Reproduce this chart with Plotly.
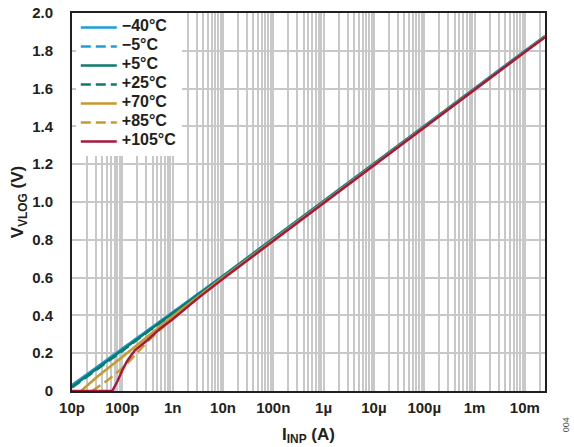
import plotly.graph_objects as go

# log10 of input current (A) and VLOG voltage (V) per temperature
names = ["\u221240\u00b0C", "\u22125\u00b0C", "+5\u00b0C", "+25\u00b0C", "+70\u00b0C", "+85\u00b0C", "+105\u00b0C"]
colors = ["#1aa0d8", "#1aa0d8", "#0b7b6e", "#0b7b6e", "#c89a2e", "#c89a2e", "#a6193f"]
dashes = ["solid", "10px,5px", "solid", "10px,5px", "solid", "10px,5px", "solid"]

log_m40 = [-11.0, -10.5, -10.0, -9.5, -9.0, -8.0, -6.0, -4.0, -2.0, -1.6]
v_m40 = [0.032, 0.127, 0.226, 0.321, 0.416, 0.610, 1.005, 1.402, 1.800, 1.878]
log_m5 = [-11.0, -10.5, -10.0, -9.5, -9.0, -8.0, -6.0, -4.0, -2.0, -1.6]
v_m5 = [0.030, 0.124, 0.223, 0.319, 0.414, 0.608, 1.004, 1.401, 1.799, 1.877]
log_p5 = [-11.0, -10.5, -10.0, -9.5, -9.0, -8.0, -6.0, -4.0, -2.0, -1.6]
v_p5 = [0.022, 0.119, 0.216, 0.315, 0.411, 0.606, 1.002, 1.400, 1.798, 1.876]
log_p25 = [-11.0, -10.5, -10.0, -9.5, -9.0, -8.0, -6.0, -4.0, -2.0, -1.6]
v_p25 = [0.018, 0.114, 0.212, 0.312, 0.409, 0.604, 1.001, 1.399, 1.797, 1.875]
log_p70 = [-10.82, -10.5, -10.0, -9.5, -9.0, -8.0, -6.0, -4.0, -2.0, -1.6]
v_p70 = [0.0, 0.075, 0.180, 0.290, 0.396, 0.600, 0.999, 1.397, 1.796, 1.874]
log_p85 = [-10.6, -10.3, -10.0, -9.85, -9.5, -9.0, -8.0, -6.0, -4.0, -2.0, -1.6]
v_p85 = [0.0, 0.055, 0.120, 0.160, 0.262, 0.385, 0.597, 0.998, 1.396, 1.795, 1.873]
log_p105 = [-11.0, -10.2, -10.1, -10.0, -9.9, -9.75, -9.5, -9.25, -9.0, -8.5, -8.0, -6.0, -4.0, -2.0, -1.6]
v_p105 = [0.0, 0.0, 0.05, 0.11, 0.16, 0.215, 0.27, 0.33, 0.38, 0.49, 0.594, 0.995, 1.395, 1.794, 1.872]

series = [(log_m40, v_m40), (log_m5, v_m5), (log_p5, v_p5), (log_p25, v_p25),
          (log_p70, v_p70), (log_p85, v_p85), (log_p105, v_p105)]

decade_vals = [1e-11, 1e-10, 1e-9, 1e-8, 1e-7, 1e-6, 1e-5, 1e-4, 1e-3, 1e-2]
decade_labels = ["10p", "100p", "1n", "10n", "100n", "1\u00b5", "10\u00b5", "100\u00b5", "1m", "10m"]
y_ticks = [0, 0.2, 0.4, 0.6, 0.8, 1.0, 1.2, 1.4, 1.6, 1.8, 2.0]
y_labels = ["0", "0.2", "0.4", "0.6", "0.8", "1.0", "1.2", "1.4", "1.6", "1.8", "2.0"]

FONT = "Liberation Sans, Arial, sans-serif"
INK = "#231f20"
GRID = "#c8c8c8"

fig = go.Figure()
for (lx, v), nm, c, d in zip(series, names, colors, dashes):
    fig.add_trace(go.Scatter(x=[10 ** e for e in lx], y=v, mode="lines",
                             name='<span style="font-size:16px">' + nm + '</span>',
                             line=dict(color=c, width=2.5, dash=d)))

fig.update_layout(
    width=574, height=447,
    margin=dict(l=72, r=29, t=13, b=56),
    paper_bgcolor="white", plot_bgcolor="white",
    font=dict(family=FONT, color=INK, size=15),
    showlegend=True,
    legend=dict(x=0.008, y=1, xanchor="left", yanchor="top", bgcolor="white",
                borderwidth=0, font=dict(family=FONT, size=10, color=INK, weight="bold"),
                tracegroupgap=0, itemwidth=36),
    xaxis=dict(type="log", range=[-11, -1.6], tickvals=decade_vals, ticktext=decade_labels,
               showgrid=True, gridcolor=GRID, gridwidth=1.5, ticks="",
               minor=dict(dtick="D1", showgrid=True, gridcolor=GRID, gridwidth=1.5, ticks=""),
               showline=True, mirror=True, linecolor=INK, linewidth=2,
               zeroline=False, ticklabelstandoff=2, automargin=False,
               tickfont=dict(family=FONT, size=15, color=INK, weight="bold"),
               title=dict(text="I<sub>INP</sub> (A)", standoff=13,
                          font=dict(family=FONT, size=17, color=INK, weight="bold"))),
    yaxis=dict(range=[0, 2], tickvals=y_ticks, ticktext=y_labels,
               showgrid=True, gridcolor=GRID, gridwidth=1.5, ticks="",
               showline=True, mirror=True, linecolor=INK, linewidth=2,
               zeroline=False, ticklabelstandoff=14, automargin=False,
               tickfont=dict(family=FONT, size=15, color=INK, weight="bold"),
               title=dict(text="V<sub>VLOG</sub> (V)", standoff=4,
                          font=dict(family=FONT, size=17, color=INK, weight="bold"))),
)

fig.add_annotation(text="004", xref="paper", yref="paper", x=1.045, y=-0.09,
                   xanchor="center", yanchor="middle",
                   showarrow=False, textangle=-90,
                   font=dict(family=FONT, size=9, color="#555555"))

fig.write_html("out.html")
